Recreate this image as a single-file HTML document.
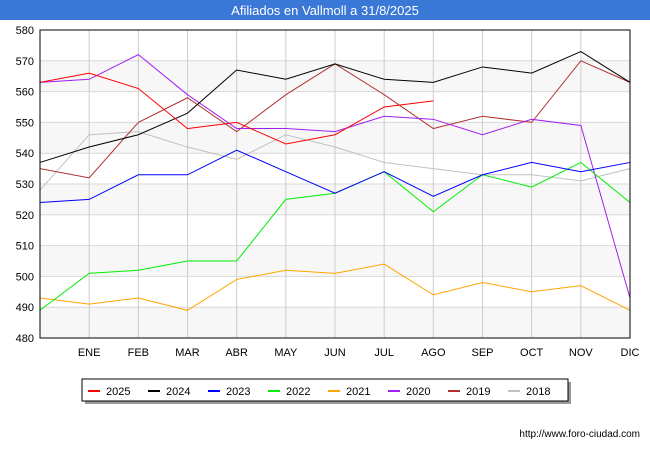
<!DOCTYPE html>
<html><head><meta charset="utf-8"><style>
body{margin:0;background:#fff;font-family:"Liberation Sans",sans-serif}
</style></head><body>
<svg width="650" height="450" xmlns="http://www.w3.org/2000/svg" font-family="Liberation Sans, sans-serif">
<rect x="0" y="0" width="650" height="20" fill="#3a78d8"/>
<text x="325" y="15" text-anchor="middle" fill="#fff" font-size="13">Afiliados en Vallmoll a 31/8/2025</text>
<g id="bands"></g><g id="grid"></g><g id="axes"></g><g id="series"></g>
<rect x="40" y="30" width="590" height="308" fill="none" stroke="#000" stroke-width="1"/>
<rect x="85" y="382" width="486" height="22" fill="#999"/>
<rect x="82" y="379" width="486" height="22" fill="#fff" stroke="#000" stroke-width="1"/>
<g id="legend"></g>
<text x="640" y="437" text-anchor="end" font-size="10" fill="#000">http://www.foro-ciudad.com</text>
</svg>
<script>
const months=["","ENE","FEB","MAR","ABR","MAY","JUN","JUL","AGO","SEP","OCT","NOV","DIC"];
const yTicks=[480,490,500,510,520,530,540,550,560,570,580];
const seriesNames=["2025","2024","2023","2022","2021","2020","2019","2018"];
const seriesColors=["#ff0000","#000000","#0000ff","#00ee00","#ffa500","#a020f0","#b03030","#c0c0c0"];
const s2025=[563,566,561,548,550,543,546,555,557];
const s2024=[537,542,546,553,567,564,569,564,563,568,566,573,563];
const s2023=[524,525,533,533,541,534,527,534,526,533,537,534,537];
const s2022=[489,501,502,505,505,525,527,534,521,533,529,537,524];
const s2021=[493,491,493,489,499,502,501,504,494,498,495,497,489];
const s2020=[563,564,572,559,548,548,547,552,551,546,551,549,493];
const s2019=[535,532,550,558,547,559,569,559,548,552,550,570,563];
const s2018=[528,546,547,542,538,546,542,537,535,533,533,531,535];
const allSeries=[s2025,s2024,s2023,s2022,s2021,s2020,s2019,s2018];
const NS="http://www.w3.org/2000/svg";
const X0=40,X1=630,Y0=338,Y1=30,VMIN=480,VMAX=580;
const xs=i=>X0+i*(X1-X0)/12;
const ys=v=>Y0-(v-VMIN)*(Y0-Y1)/(VMAX-VMIN);
function mk(tag,attrs,parent){const e=document.createElementNS(NS,tag);for(const k in attrs)e.setAttribute(k,attrs[k]);parent.appendChild(e);return e;}
const bands=document.getElementById('bands'),grid=document.getElementById('grid'),axes=document.getElementById('axes'),ser=document.getElementById('series'),leg=document.getElementById('legend');
mk('rect',{x:X0,y:Y1,width:X1-X0,height:Y0-Y1,fill:'#fff'},bands);
for(let i=0;i<yTicks.length-1;i++){
  if(i%2===0){const r=mk('rect',{x:X0,y:ys(yTicks[i+1]),width:X1-X0,height:ys(yTicks[i])-ys(yTicks[i+1]),fill:'#f7f7f7'},bands);
  
  }
}
yTicks.forEach(v=>{
  const l=mk('line',{x1:X0,x2:X1,y1:ys(v),y2:ys(v),stroke:'#d8d8d8','stroke-width':1},grid);
  
  
  const t=mk('text',{x:X0-6,y:ys(v)+4,'text-anchor':'end','font-size':11,fill:'#000'},axes);
  t.textContent=v;
  
  
});
months.forEach((m,i)=>{
  if(i>0){const l=mk('line',{x1:xs(i),x2:xs(i),y1:Y1,y2:Y0,stroke:'#cccccc','stroke-width':1},grid);
  
  }
  if(m){const t=mk('text',{x:xs(i),y:356,'text-anchor':'middle','font-size':11,fill:'#000'},axes);
  t.textContent=m;
  
  }
});
for(let k=allSeries.length-1;k>=0;k--){
  const pts=allSeries[k].map((v,i)=>xs(i)+','+ys(v)).join(' ');
  const p=mk('polyline',{points:pts,fill:'none',stroke:seriesColors[k],'stroke-width':1},ser);
  
  
}
seriesNames.forEach((n,k)=>{
  const x=88+k*60;
  const l=mk('line',{x1:x,x2:x+12,y1:391,y2:391,stroke:seriesColors[k],'stroke-width':2},leg);
  
  
  const t=mk('text',{x:x+18,y:395,'font-size':11,fill:'#000'},leg);
  t.textContent=n;
  
  
});
</script>
</body></html>
